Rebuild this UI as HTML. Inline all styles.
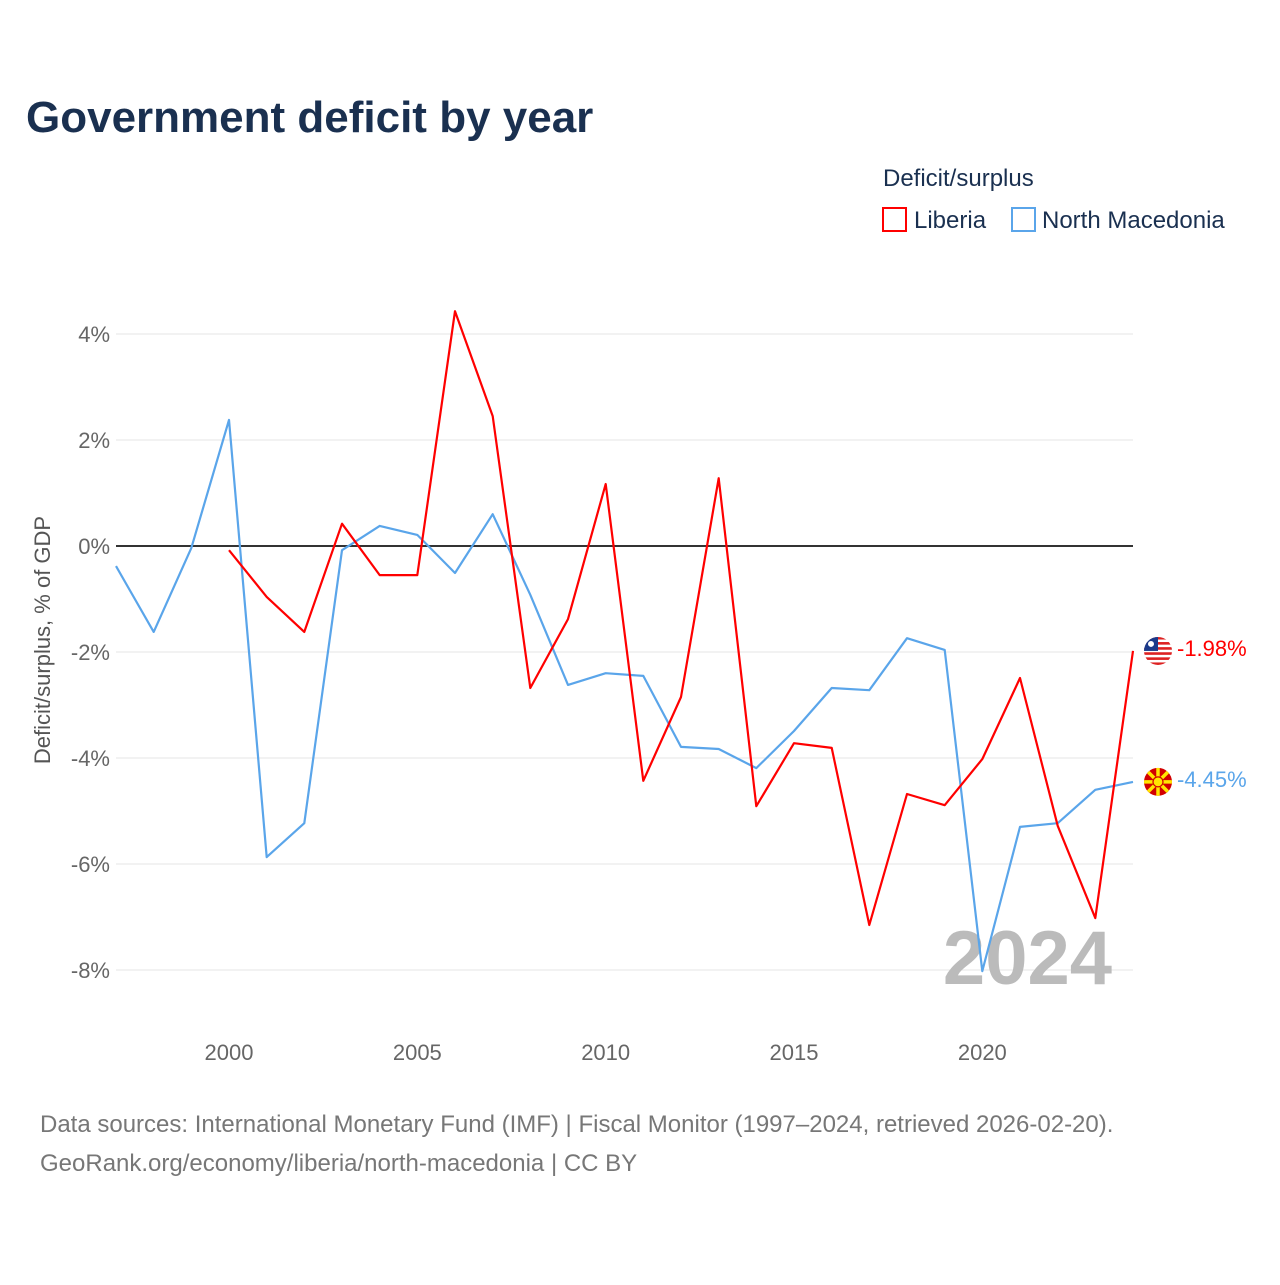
<!DOCTYPE html>
<html><head><meta charset="utf-8">
<style>
body{margin:0;background:#fff;font-family:"Liberation Sans",sans-serif;}
</style></head>
<body>
<svg id="chart" width="1280" height="1280" xmlns="http://www.w3.org/2000/svg" font-family="Liberation Sans, sans-serif">
<defs>
<clipPath id="c1"><circle cx="0" cy="0" r="14"/></clipPath>
</defs>
<text x="26" y="132" font-size="44" font-weight="bold" fill="#1a3050">Government deficit by year</text>
<text x="883" y="186" font-size="24" fill="#1a3050">Deficit/surplus</text>
<g>
<rect x="883" y="208" width="23" height="23" fill="none" stroke="#ff0000" stroke-width="2"/>
<text x="914" y="228" font-size="24" fill="#1a3050">Liberia</text></g>
<g>
<rect x="1012" y="208" width="23" height="23" fill="none" stroke="#5aa5ea" stroke-width="2"/>
<text x="1042" y="228" font-size="24" fill="#1a3050">North Macedonia</text></g>
<text transform="translate(50,640) rotate(-90)" text-anchor="middle" font-size="22" fill="#555">Deficit/surplus, % of GDP</text>
<g id="grid"></g>
<text x="1112" y="984" text-anchor="end" font-size="76" font-weight="bold" fill="#bbb">2024</text>
<g id="series"></g>
<text x="40" y="1132" font-size="24" fill="#777">Data sources: International Monetary Fund (IMF) | Fiscal Monitor (1997–2024, retrieved 2026-02-20).</text>
<text x="40" y="1171" font-size="24" fill="#777">GeoRank.org/economy/liberia/north-macedonia | CC BY</text>
</svg>
<script>
const years=[1997,1998,1999,2000,2001,2002,2003,2004,2005,2006,2007,2008,2009,2010,2011,2012,2013,2014,2015,2016,2017,2018,2019,2020,2021,2022,2023,2024];
const macedonia=[-0.38,-1.62,-0.04,2.38,-5.87,-5.23,-0.08,0.38,0.21,-0.51,0.60,-0.92,-2.62,-2.40,-2.45,-3.79,-3.83,-4.19,-3.49,-2.68,-2.72,-1.74,-1.96,-8.02,-5.30,-5.23,-4.60,-4.45];
const liberia=[null,null,null,-0.08,-0.96,-1.62,0.42,-0.55,-0.55,4.43,2.45,-2.68,-1.38,1.17,-4.43,-2.85,1.28,-4.91,-3.72,-3.81,-7.15,-4.68,-4.89,-4.02,-2.49,-5.28,-7.02,-1.98];
const yTicks=[4,2,0,-2,-4,-6,-8];
const xTicks=[2000,2005,2010,2015,2020];
const X=y=>116+(y-1997)*(1133-116)/27;
const Y=v=>546-v*53;
const NS="http://www.w3.org/2000/svg";
const grid=document.getElementById('grid'),ser=document.getElementById('series');
function mk(tag,attrs,parent){const e=document.createElementNS(NS,tag);for(const k in attrs)e.setAttribute(k,attrs[k]);parent.appendChild(e);return e;}
yTicks.forEach(t=>{
 const l=mk('line',{x1:116,x2:1133,y1:Y(t),y2:Y(t),stroke:t===0?'#333':'#e6e6e6','stroke-width':t===0?2:1},grid);
 
 
 const tx=mk('text',{x:110,y:Y(t)+8,'text-anchor':'end','font-size':22,fill:'#666'},grid);
 tx.textContent=t+'%';
 
 
});
xTicks.forEach(t=>{
 const tx=mk('text',{x:X(t),y:1060,'text-anchor':'middle','font-size':22,fill:'#666'},grid);
 tx.textContent=t;
 
 
});
function line(vals,color,name){
 let d='';vals.forEach((v,i)=>{if(v===null)return;d+=(d?'L':'M')+X(years[i]).toFixed(1)+','+Y(v).toFixed(1);});
 const p=mk('path',{d:d,fill:'none',stroke:color,'stroke-width':2.2,'stroke-linejoin':'round'},ser);
 
 
}
line(macedonia,'#5aa5ea','line-north-macedonia');
line(liberia,'#ff0000','line-liberia');
function endLabel(v,color,name,kind){
 const y=Y(v);
 const g=mk('g',{transform:'translate(1158,'+y+')'},ser);
 
 
 const inner=mk('g',{'clip-path':'url(#c1)'},g);
 if(kind==='lr'){
  mk('rect',{x:-14,y:-14,width:28,height:28,fill:'#fff'},inner);
  for(let i=0;i<6;i++)mk('rect',{x:-14,y:-14+i*5.1,width:28,height:2.6,fill:'#d22'},inner);
  mk('rect',{x:-14,y:-14,width:14,height:14,fill:'#1a3a8a'},inner);
  mk('circle',{cx:-7,cy:-7,r:3,fill:'#fff'},inner);
 }else{
  mk('rect',{x:-14,y:-14,width:28,height:28,fill:'#d20000'},inner);
  for(let a=0;a<8;a++){const r=a*Math.PI/4;mk('line',{x1:0,y1:0,x2:20*Math.cos(r),y2:20*Math.sin(r),stroke:'#ffe600','stroke-width':3.5},inner);}
  mk('circle',{cx:0,cy:0,r:5,fill:'#ffe600',stroke:'#d20000','stroke-width':1.2},inner);
 }
 const t=mk('text',{x:1177,y:y+5,'font-size':22,fill:color},ser);
 t.textContent=v.toFixed(2)+'%';
 
 
}
endLabel(liberia[liberia.length-1],'#ff0000','liberia','lr');
endLabel(macedonia[macedonia.length-1],'#5aa5ea','north-macedonia','mk');
</script>
</body></html>
